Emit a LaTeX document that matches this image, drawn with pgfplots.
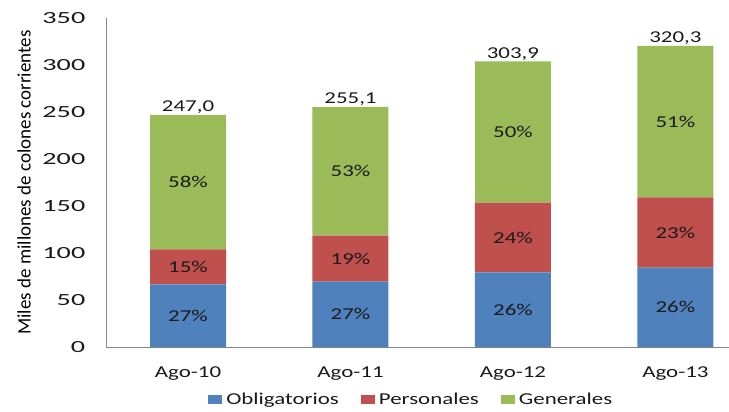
\documentclass[border=0pt]{standalone}
\usepackage{fontspec}
\setmainfont{Carlito}[FakeStretch=1.38]
\newfontfamily\ylabfont{Carlito}
\usepackage{pgfplots}
\pgfplotsset{compat=1.18}
\definecolor{cblue}{HTML}{4F81BD}
\definecolor{cred}{HTML}{C0504D}
\definecolor{cgreen}{HTML}{9BBB59}
\definecolor{caxis}{HTML}{868686}
\definecolor{ctext}{HTML}{1A1A1A}
\newcommand{\chfont}{\fontsize{16.6bp}{19bp}\selectfont}
\newcommand{\yt}[1]{\scalebox{1.2}[1.0]{\fontsize{17bp}{19bp}\selectfont #1}}
\begin{document}
\chfont
\begin{tikzpicture}
\useasboundingbox (-106bp,-65bp) rectangle (623bp,347bp);
\pgfplotsset{common/.style={scale only axis, width=623bp, height=329bp,
  xmin=-0.505, xmax=3.33, ymin=0, ymax=350, at={(0,0)}, anchor=south west}}
\begin{axis}[common, ybar stacked, bar width=76bp,
  axis x line*=bottom, axis y line*=left,
  axis line style={caxis, line width=0.9bp},
  major tick length=0pt,
  xtick={0,1,2,3}, xticklabels={Ago-10,Ago-11,Ago-12,Ago-13},
  ytick={0,50,100,150,200,250,300,350},
  yticklabels={\yt{0},\yt{50},\yt{100},\yt{150},\yt{200},\yt{250},\yt{300},\yt{350}},
  tick label style={font=\chfont, text=ctext},
  yticklabel style={anchor=east, xshift=-15bp},
  xticklabel style={anchor=north, yshift=-14bp},
  ylabel={\ylabfont\fontsize{19bp}{20bp}\selectfont Miles de millones de colones corrientes},
  ylabel style={at={(axis description cs:-0.1204,0.5)}, rotate=0, anchor=south, inner sep=0pt, text=black},
  legend style={at={(axis description cs:0.49,-0.161)}, anchor=center, draw=none, fill=none,
    legend columns=3, font=\chfont, text=ctext,
    /tikz/every even column/.append style={column sep=20bp}},
  legend image code/.code={\fill[#1] (0bp,-4.5bp) rectangle (14bp,4.5bp); \path (0bp,0bp) -- (16bp,0bp);},
]
\addplot[fill=cblue, draw=none] coordinates {(0,66.7) (1,69.5) (2,79.4) (3,84.4)};
\addplot[fill=cred, draw=none] coordinates {(0,37.1) (1,49.0) (2,74.1) (3,74.8)};
\addplot[fill=cgreen, draw=none] coordinates {(0,143.2) (1,136.6) (2,150.4) (3,161.1)};
\legend{Obligatorios,Personales,Generales}
\end{axis}
\begin{axis}[common, hide axis]
\addplot[only marks, mark=none, point meta=explicit symbolic, nodes near coords,
  nodes near coords style={anchor=center, font=\chfont, text=ctext}] coordinates {
  (0,33.35) [27\%] (0,85.25) [15\%] (0,175.4) [58\%]
  (1,34.75) [27\%] (1,94.0) [19\%] (1,186.8) [53\%]
  (2,39.7) [26\%] (2,116.45) [24\%] (2,228.7) [50\%]
  (3,42.2) [26\%] (3,121.8) [23\%] (3,239.75) [51\%]
};
\addplot[only marks, mark=none, point meta=explicit symbolic, nodes near coords,
  nodes near coords style={anchor=south, inner sep=1bp, font=\chfont, text=ctext}] coordinates {
  (0,247.0) [{247,0}] (1,255.1) [{255,1}] (2,303.9) [{303,9}] (3,320.3) [{320,3}]
};
\end{axis}
\end{tikzpicture}
\end{document}
